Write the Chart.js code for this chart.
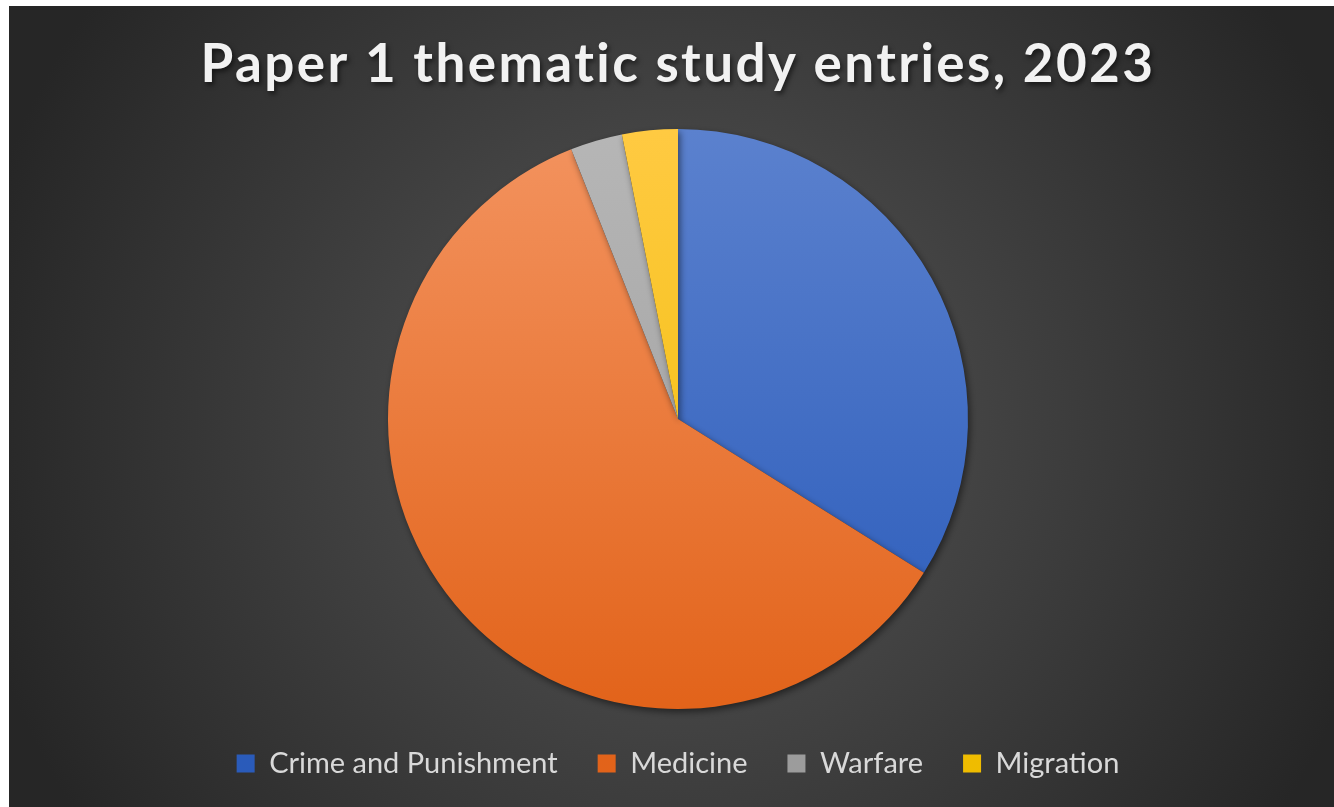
<!DOCTYPE html>
<html>
<head>
<meta charset="utf-8">
<script src="https://cdn.jsdelivr.net/npm/chart.js@4.4.1/dist/chart.umd.min.js"></script>
<style>
  html, body { margin: 0; padding: 0; background: #ffffff; }
  #wrap { position: absolute; left: 9px; top: 6px; width: 1325px; height: 801px; }
</style>
</head>
<body>
<div id="wrap"><canvas id="pie"></canvas></div>
<script>
// entries share by thematic study (percent)
var topics = ["Crime and Punishment", "Medicine", "Warfare", "Migration"];
var entries = [33.9, 60.1, 2.9, 3.1];

// light (top) and dark (bottom) shade of each slice
var shadeTop = ["#5b81ce", "#f3935f", "#b6b6b6", "#ffca42"];
var shadeBottom = ["#2a5bba", "#e2631a", "#9c9c9c", "#efbc00"];

function sliceFill(context) {
    var chart = context.chart;
    var area = chart.chartArea;
    if (!area) return shadeBottom[context.dataIndex];
    var i = context.dataIndex;
    var r = Math.min(area.right - area.left, area.bottom - area.top) / 2;
    var cy = (area.top + area.bottom) / 2;
    var g = chart.ctx.createLinearGradient(0, cy - r, 0, cy + r);
    g.addColorStop(0, shadeTop[i]);
    g.addColorStop(1, shadeBottom[i]);
    return g;
}

function setShadow(ctx, color, blur, dx, dy) {
    ctx.shadowColor = color;
    ctx.shadowBlur = blur;
    ctx.shadowOffsetX = dx;
    ctx.shadowOffsetY = dy;
}

// dark radial backdrop, spaced + shadowed title, shadowed pie
var backdrop = {
    id: 'backdrop',
    afterLayout: function(chart) {
        var t = chart.titleBlock;
        if (t && !t._spaced) {
            var orig = t.draw;
            t.draw = function() {
                var c = chart.ctx;
                c.save();
                c.letterSpacing = "2.4px";
                setShadow(c, "rgba(0,0,0,0.55)", 5, 2, 3);
                orig.apply(this, arguments);
                c.restore();
            };
            t._spaced = true;
        }
    },
    beforeDraw: function(chart) {
        var ctx = chart.ctx;
        ctx.save();
        var g = ctx.createRadialGradient(669, 414, 0, 669, 414, 720);
        g.addColorStop(0, "#575757");
        g.addColorStop(1, "#262626");
        ctx.fillStyle = g;
        ctx.fillRect(0, 0, chart.width, chart.height);
        ctx.restore();
    },
    beforeDatasetsDraw: function(chart) {
        chart.ctx.save();
        setShadow(chart.ctx, "rgba(0,0,0,0.5)", 7, 2, 3);
    },
    afterDatasetsDraw: function(chart) {
        chart.ctx.restore();
    }
};

const ctx = document.getElementById("pie").getContext("2d");
var pieChart = new Chart(ctx, {
    type: 'pie',
    data: {
        labels: topics,
        datasets: [{
            data: entries,
            backgroundColor: sliceFill,
            borderWidth: 0
        }]
    },
    options: {
        responsive: true,
        maintainAspectRatio: false,
        animation: false,
        layout: {
            padding: { left: 13, right: 0, top: 0, bottom: 19 }
        },
        plugins: {
            title: {
                display: true,
                text: "Paper 1 thematic study entries, 2023",
                color: "#f2f2f2",
                font: { family: "Lato", size: 53, weight: "bold", lineHeight: 1.2 },
                padding: { top: 27, bottom: 32.4 }
            },
            legend: {
                position: 'bottom',
                labels: {
                    color: "#d9d9d9",
                    boxWidth: 18,
                    boxHeight: 18,
                    padding: 40,
                    font: { family: "Lato", size: 29 }
                }
            },
            tooltip: { enabled: false }
        }
    },
    plugins: [backdrop]
});
</script>
</body>
</html>
